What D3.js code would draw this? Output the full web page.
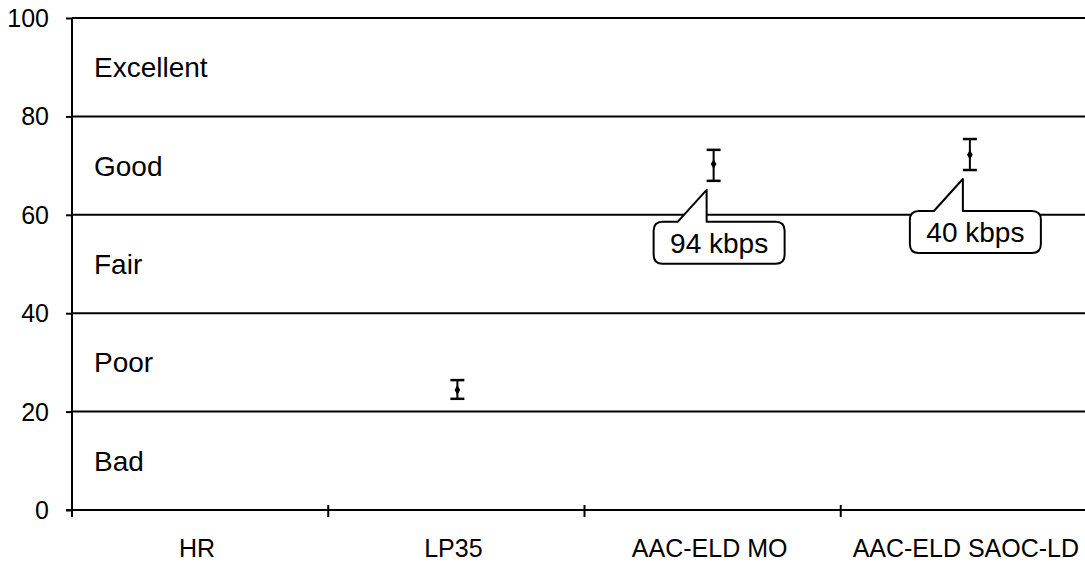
<!DOCTYPE html>
<html>
<head>
<meta charset="utf-8">
<script src="https://cdn.jsdelivr.net/npm/d3@7"></script>
<style>
  html, body { margin: 0; padding: 0; background: #fff; }
  svg { display: block; font-family: "Liberation Sans", Arial, sans-serif; }
</style>
</head>
<body>
<svg id="chart" width="1085" height="563"></svg>
<script>
// ---- data ----
const categories = ["HR", "LP35", "AAC-ELD MO", "AAC-ELD SAOC-LD"];
const means = [null, 24.4, 70.3, 72.2];
const lowerCI = [null, 22.6, 66.9, 69.1];
const upperCI = [null, 26.4, 73.2, 75.4];
const callouts = [null, null, "94 kbps", "40 kbps"];
const yTicks = [0, 20, 40, 60, 80, 100];
const qualityLabels = ["Bad", "Poor", "Fair", "Good", "Excellent"];
const qualityMids = [10, 30, 50, 70, 90];

// ---- layout ----
const W = 1085, H = 563;
const svg = d3.select("#chart");
const x = d3.scaleBand().domain(categories).range([72, 1097]).paddingInner(0).paddingOuter(0);
const y = d3.scaleLinear().domain([0, 100]).range([510, 18]);
const x0 = x.range()[0];

// grid lines (horizontal)
svg.append("g").selectAll("line")
  .data(yTicks.filter(d => d > 0))
  .join("line")
  .attr("x1", x0).attr("x2", W + 20)
  .attr("y1", d => y(d)).attr("y2", d => y(d))
  .attr("stroke", "#000").attr("stroke-width", 2);

// y axis
const yAxis = d3.axisLeft(y).tickValues(yTicks).tickSize(6).tickSizeOuter(0).tickPadding(17);
const gy = svg.append("g").attr("transform", `translate(${x0},0)`).call(yAxis);
gy.select(".domain").remove();
gy.selectAll(".tick line").attr("stroke", "#000").attr("stroke-width", 2);
gy.selectAll(".tick text")
  .attr("font-size", 25).attr("fill", "#000")
  .attr("font-family", "Liberation Sans, Arial, sans-serif")
  .attr("dy", "0.34em");
svg.append("line")
  .attr("x1", x0).attr("x2", x0)
  .attr("y1", y(100)).attr("y2", y(0) + 7)
  .attr("stroke", "#000").attr("stroke-width", 2);

// x axis
svg.append("line")
  .attr("x1", x0 - 6).attr("x2", W + 20)
  .attr("y1", y(0)).attr("y2", y(0))
  .attr("stroke", "#000").attr("stroke-width", 2);
const bounds = categories.map(c => x(c)).concat([x.range()[1]]).slice(1);
svg.append("g").selectAll("line")
  .data(bounds)
  .join("line")
  .attr("x1", d => d).attr("x2", d => d)
  .attr("y1", y(0) - 5).attr("y2", y(0) + 7)
  .attr("stroke", "#000").attr("stroke-width", 2);
svg.append("g").selectAll("text")
  .data(categories)
  .join("text")
  .attr("x", d => x(d) + x.bandwidth() / 2 - 3)
  .attr("y", 557)
  .attr("text-anchor", "middle")
  .attr("font-size", 25)
  .attr("fill", "#000")
  .text(d => d);

// quality labels
svg.append("g").selectAll("text")
  .data(qualityLabels)
  .join("text")
  .attr("x", 94)
  .attr("y", (d, i) => y(qualityMids[i]) + 10)
  .attr("font-size", 28)
  .attr("fill", "#000")
  .text(d => d);

// error bars
const pts = categories.map((c, i) => ({c, m: means[i], lo: lowerCI[i], hi: upperCI[i], label: callouts[i]}))
  .filter(d => d.m != null);
const cx = d => x(d.c) + x.bandwidth() / 2 + 1;
const eb = svg.append("g");
eb.selectAll("line.v").data(pts).join("line").attr("class", "v")
  .attr("x1", cx).attr("x2", cx)
  .attr("y1", d => y(d.hi)).attr("y2", d => y(d.lo))
  .attr("stroke", "#000").attr("stroke-width", 2);
eb.selectAll("line.t").data(pts).join("line").attr("class", "t")
  .attr("x1", d => cx(d) - 7).attr("x2", d => cx(d) + 7)
  .attr("y1", d => y(d.hi)).attr("y2", d => y(d.hi))
  .attr("stroke", "#000").attr("stroke-width", 2.5);
eb.selectAll("line.b").data(pts).join("line").attr("class", "b")
  .attr("x1", d => cx(d) - 7).attr("x2", d => cx(d) + 7)
  .attr("y1", d => y(d.lo)).attr("y2", d => y(d.lo))
  .attr("stroke", "#000").attr("stroke-width", 2.5);
eb.selectAll("path").data(pts).join("path")
  .attr("transform", d => `translate(${cx(d)},${y(d.m)})`)
  .attr("d", d3.symbol(d3.symbolDiamond, 28)())
  .attr("fill", "#000");

// callouts
const bw = 131, bh = 42, r = 9;
pts.filter(d => d.label).forEach(d => {
  const tipX = cx(d) - 7;
  const tipY = y(d.lo) + 9;
  const top = tipY + 32;
  const left = tipX - 53, right = left + bw, bottom = top + bh;
  const p = d3.path();
  p.moveTo(left + r, top);
  p.lineTo(tipX - 29, top);
  p.lineTo(tipX, tipY);
  p.lineTo(tipX, top);
  p.lineTo(right - r, top);
  p.quadraticCurveTo(right, top, right, top + r);
  p.lineTo(right, bottom - r);
  p.quadraticCurveTo(right, bottom, right - r, bottom);
  p.lineTo(left + r, bottom);
  p.quadraticCurveTo(left, bottom, left, bottom - r);
  p.lineTo(left, top + r);
  p.quadraticCurveTo(left, top, left + r, top);
  p.closePath();
  svg.append("path").attr("d", p.toString())
    .attr("fill", "#fff").attr("stroke", "#000").attr("stroke-width", 2)
    .attr("stroke-linejoin", "round");
  svg.append("text")
    .attr("x", left + bw / 2).attr("y", top + 31)
    .attr("text-anchor", "middle")
    .attr("font-size", 28).attr("fill", "#000")
    .text(d.label);
});
</script>
</body>
</html>
